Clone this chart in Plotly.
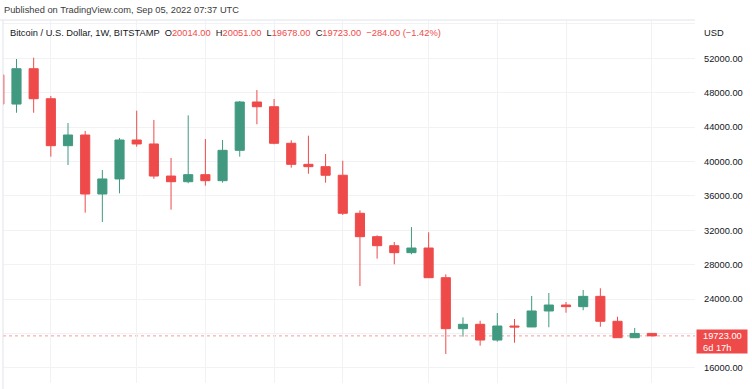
import plotly.graph_objects as go
import pandas as pd

# Weekly BTC/USD candles (Bitstamp), week starting dates
weeks = pd.date_range("2021-12-13", periods=39, freq="7D")
opens = [50060, 46680, 50790, 47300, 41840, 43080, 36220, 37970, 42500, 42040,
         38310, 37650, 38470, 37770, 41300, 46920, 46370, 42120, 39670, 39400,
         38400, 33980, 31260, 30210, 29400, 29940, 26490, 20560, 21070, 19240,
         20870, 20760, 22620, 23310, 23120, 24320, 21420, 19510, 20014]
highs = [50700, 51920, 52070, 47620, 44480, 43550, 39010, 42730, 45910, 44830,
         40410, 45370, 42620, 42500, 47040, 48310, 47270, 42470, 43000, 40870,
         40090, 34330, 31420, 30640, 32380, 31770, 26880, 21880, 21490, 22380,
         21690, 24360, 24710, 23660, 25060, 25260, 21950, 20640, 20051]
lows = [45600, 45670, 45670, 40560, 39590, 34050, 32970, 36300, 41720, 38000,
        34400, 37470, 37190, 37540, 40560, 44330, 42000, 39280, 38580, 37540,
        33780, 25520, 28700, 28050, 29210, 26450, 17620, 19630, 18580, 19050,
        18930, 20740, 20720, 22420, 22700, 20790, 19500, 19550, 19678]
closes = [46680, 50790, 47300, 41840, 43080, 36220, 37970, 42500, 42040, 38310,
          37650, 38470, 37770, 41300, 46920, 46370, 42120, 39670, 39400, 38400,
          33980, 31260, 30210, 29400, 29940, 26490, 20560, 21070, 19240, 20870,
          20760, 22620, 23310, 23120, 24320, 21420, 19510, 20007, 19723]

month_starts = ["2022-01-03", "2022-02-07", "2022-03-07", "2022-04-04", "2022-05-02",
                "2022-06-06", "2022-07-04", "2022-08-01", "2022-09-05"]
price_ticks = list(range(16000, 56001, 4000))
labelled_max = 52000

symbol = "Bitcoin / U.S. Dollar, 1W, BITSTAMP"
published = "Published on TradingView.com, Sep 05, 2022 07:37 UTC"
countdown = "6d 17h"

UP = "#419a80"
DOWN = "#ef4a4a"
GRID = "#f0f2f6"
TEXT = "#131722"
FONT = "Liberation Sans, Arial, sans-serif"
FS = 9.3

fig = go.Figure()
fig.add_trace(go.Candlestick(
    x=weeks, open=opens, high=highs, low=lows, close=closes,
    increasing=dict(line=dict(color=UP, width=1), fillcolor=UP),
    decreasing=dict(line=dict(color=DOWN, width=1), fillcolor=DOWN),
    whiskerwidth=0, hoverinfo="skip", showlegend=False,
))

last_o, last_h, last_l, last_c = opens[-1], highs[-1], lows[-1], closes[-1]
prev_c = closes[-2]
chg = last_c - prev_c
pct = chg / prev_c * 100
last_col = DOWN if chg < 0 else UP

# tick labels: hidden under the "USD" caption and under the last-price box
tick_text = ["" if (t > labelled_max or abs(t - last_c) < 2000) else f"{t:.2f}"
             for t in price_ticks]

def v(x):
    return f"<span style='color:{last_col}'>{x}</span>"

chg_txt = f"{chg:.2f}".replace("-", "\u2212")
pct_txt = f"{pct:.2f}".replace("-", "\u2212")
header = (f"{symbol}  O{v(f'{last_o:.2f}')}  H{v(f'{last_h:.2f}')}  "
          f"L{v(f'{last_l:.2f}')}  C{v(f'{last_c:.2f}')}  {v(f'{chg_txt} ({pct_txt}%)')}")

annotations = [
    dict(text=published, xref="paper", yref="paper", x=0, y=1, xanchor="left",
         yanchor="bottom", xshift=-1, yshift=3, showarrow=False,
         font=dict(family=FONT, size=FS, color="#3b3b3b")),
    dict(text=header, xref="paper", yref="paper", x=0, y=1, xanchor="left",
         yanchor="top", xshift=5, yshift=-6, showarrow=False,
         font=dict(family=FONT, size=FS, color=TEXT)),
    dict(text="USD", xref="paper", yref="paper", x=1, y=1, xanchor="left",
         yanchor="top", xshift=7, yshift=-6, showarrow=False,
         font=dict(family=FONT, size=FS, color=TEXT)),
    dict(text=" ", xref="paper", yref="y", x=1, y=last_c, xanchor="left",
         yanchor="top", xshift=1, yshift=7, showarrow=False, width=50, height=23,
         borderpad=0, bgcolor=last_col, font=dict(size=10)),
    dict(text=f"{last_c:.2f}<br>{countdown}", xref="paper", yref="y", x=1, y=last_c,
         xanchor="left", yanchor="top", xshift=6, yshift=7, showarrow=False,
         align="left", font=dict(family=FONT, size=FS, color="white")),
]

shapes = [
    dict(type="line", xref="paper", yref="y", x0=0, x1=1, y0=last_c, y1=last_c,
         line=dict(color="rgba(239,74,74,0.55)", width=1, dash="dot"), layer="below"),
    dict(type="line", xref="paper", yref="paper", x0=-0.01, x1=1, y0=1, y1=1,
         line=dict(color="#e0e3eb", width=1)),
    dict(type="line", xref="paper", yref="paper", x0=0, x1=0, y0=-0.02, y1=1,
         line=dict(color="#e0e3eb", width=1)),
]

fig.update_layout(
    width=752, height=389,
    margin=dict(l=3, r=57, t=20, b=6, autoexpand=False),
    paper_bgcolor="white", plot_bgcolor="white",
    boxgap=0.24,
    font=dict(family=FONT, size=FS, color=TEXT),
    xaxis=dict(
        type="date", range=["2021-12-14 12:00", "2022-09-22 14:00"],
        rangeslider=dict(visible=False),
        tickvals=month_starts, showticklabels=False, ticks="",
        showgrid=True, gridcolor=GRID, gridwidth=1, zeroline=False, showline=False,
    ),
    yaxis=dict(
        side="right", range=[14244, 56454], tickvals=price_ticks, ticktext=tick_text,
        ticks="", ticklabelstandoff=8,
        showgrid=True, gridcolor=GRID, gridwidth=1, zeroline=False, showline=False,
        tickfont=dict(family=FONT, size=FS, color=TEXT),
    ),
    annotations=annotations,
    shapes=shapes,
    hovermode=False,
)

fig.write_html("out.html", config={"displayModeBar": False},
               post_script="document.body.style.margin='0';document.body.style.overflow='hidden';")
